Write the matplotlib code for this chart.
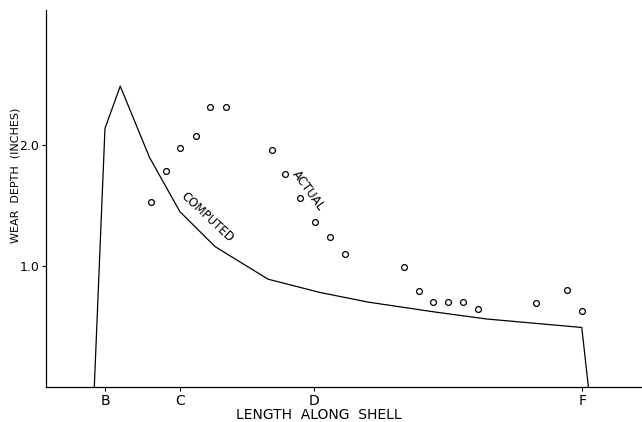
import matplotlib
matplotlib.use("Agg")
import matplotlib.pyplot as plt

# positions along the shell (arbitrary length units)
tick_pos = [10, 22.5, 45, 90]
tick_names = ["B", "C", "D", "F"]

computed_x = [8.15, 9.94, 12.5, 17.4, 22.5, 28.4, 37.3, 46.0, 54.1, 65.0, 74.0, 89.9, 91.0]
computed_y = [0.0, 2.14, 2.49, 1.90, 1.45, 1.16, 0.89, 0.78, 0.70, 0.62, 0.56, 0.49, 0.0]

actual_x = [17.6, 20.1, 22.5, 25.2, 27.6, 30.2, 37.9, 40.2, 42.6, 45.1, 47.6, 50.2,
            60.1, 62.6, 65.0, 67.5, 70.0, 72.5, 82.3, 87.5, 89.9]
actual_y = [1.53, 1.79, 1.98, 2.08, 2.32, 2.32, 1.96, 1.76, 1.56, 1.36, 1.24, 1.10,
            0.99, 0.79, 0.70, 0.70, 0.70, 0.645, 0.69, 0.80, 0.63]

fig = plt.figure(figsize=(6.42, 4.22), dpi=100)
ax = fig.add_axes([0.0712, 0.0839, 0.9288, 0.8921])

ax.plot(computed_x, computed_y, color="black", lw=0.9)
ax.plot(actual_x, actual_y, "o", mfc="white", mec="black", ms=4.2, mew=0.9)

ax.text(27.1, 1.40, "COMPUTED", rotation=-43, ha="center", va="center", fontsize=8.5)
ax.text(44.0, 1.62, "ACTUAL", rotation=-54, ha="center", va="center", fontsize=8.5)

ax.set_xlim(0, 100)
ax.set_ylim(0, 3.12)
ax.set_xticks(tick_pos)
ax.set_xticklabels(tick_names)
ax.set_yticks([1.0, 2.0])
ax.set_yticklabels(["1.0", "2.0"])
ax.tick_params(direction="out", length=3, width=0.8, labelsize=10, pad=2)
ax.tick_params(axis="y", labelsize=9, pad=1.5)

for s in ["top", "right"]:
    ax.spines[s].set_visible(False)
for s in ["left", "bottom"]:
    ax.spines[s].set_linewidth(0.9)

ax.set_xlabel("LENGTH  ALONG  SHELL", fontsize=10, labelpad=1)
ax.xaxis.set_label_coords(0.458, -0.058)
ax.set_ylabel("WEAR  DEPTH  (INCHES)", fontsize=8)
ax.yaxis.set_label_coords(-0.042, 0.562)

fig.savefig("out.png", dpi=100)
